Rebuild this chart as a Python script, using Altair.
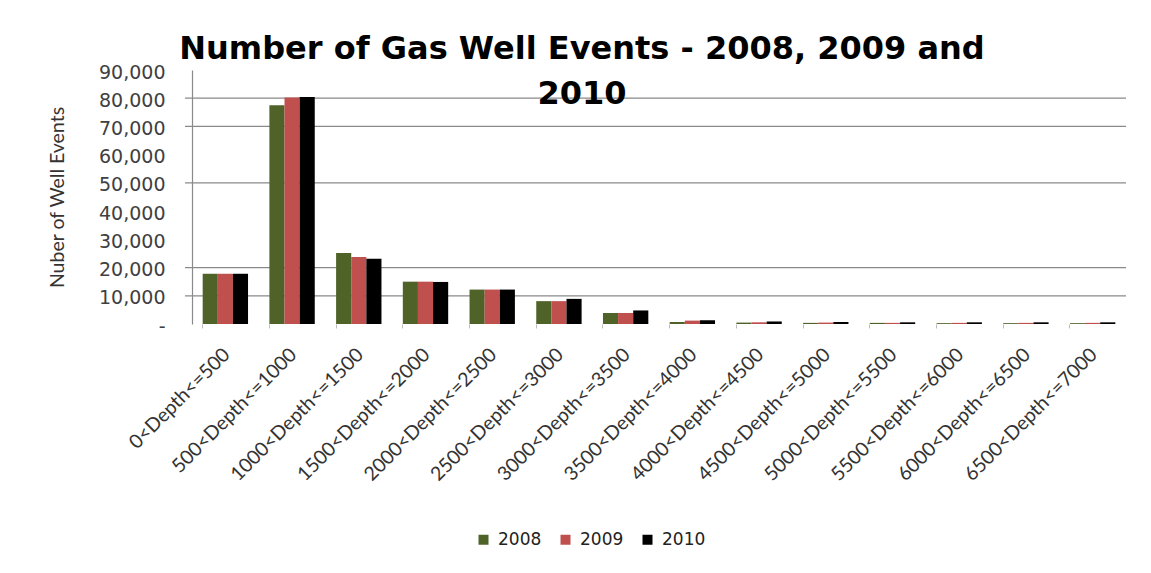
import altair as alt
import pandas as pd

categories = ["0<Depth<=500", "500<Depth<=1000", "1000<Depth<=1500", "1500<Depth<=2000",
              "2000<Depth<=2500", "2500<Depth<=3000", "3000<Depth<=3500", "3500<Depth<=4000",
              "4000<Depth<=4500", "4500<Depth<=5000", "5000<Depth<=5500", "5500<Depth<=6000",
              "6000<Depth<=6500", "6500<Depth<=7000"]
years = ["2008", "2009", "2010"]
v2008 = [17800, 77500, 25200, 15000, 12200, 8100, 3900, 700, 500, 400, 400, 300, 300, 300]
v2009 = [17800, 80300, 23700, 15000, 12200, 8100, 3900, 1200, 600, 500, 400, 400, 400, 400]
v2010 = [17800, 80400, 23100, 14900, 12200, 8900, 4800, 1300, 900, 700, 600, 600, 600, 600]
colors = ["#4f6228", "#c0504d", "#000000"]
grid_vals = [10000, 20000, 50000, 70000, 80000]
y_ticks = [0, 10000, 20000, 30000, 40000, 50000, 60000, 70000, 80000, 90000]

rows = []
for yr, vals in zip(years, [v2008, v2009, v2010]):
    for c, v in zip(categories, vals):
        rows.append({"Depth": c, "Year": yr, "Events": v})
df = pd.DataFrame(rows)
grid_df = pd.DataFrame({"g": grid_vals})

W, H = 934, 254
FONT = "Lato"

yscale = alt.Scale(domain=[0, 90000], nice=False)
yaxis = alt.Axis(title="Nuber of Well Events", values=y_ticks, grid=False,
                 ticks=False, domainColor="#8a8a8a", domainWidth=1.2,
                 labelFont="DejaVu Sans", labelFontSize=19, labelColor="#404040",
                 labelPadding=27, labelOverlap=False, labelOffset=2,
                 labelExpr="datum.value == 0 ? '-\u00a0\u00a0\u00a0' : format(datum.value, ',')",
                 titleFont=FONT, titleFontSize=19.5, titleFontWeight="normal",
                 titleColor="#333333", titlePadding=31)

grid = alt.Chart(grid_df).mark_rule(color="#8a8a8a", strokeWidth=1.2).encode(
    y=alt.Y("g:Q", scale=yscale, axis=yaxis, title="Nuber of Well Events"),
    x=alt.value(-7),
    x2=alt.value(W),
)

bars = alt.Chart(df).mark_bar().encode(
    x=alt.X("Depth:N", sort=categories,
            scale=alt.Scale(paddingInner=0.32, paddingOuter=0.16),
            axis=alt.Axis(title=None, labelAngle=-45, labelFont=FONT, labelFontSize=19.5,
                          labelColor="#333333", labelPadding=17, labelOffset=-5,
                          domain=False, labelLimit=400,
                          ticks=True, bandPosition=0, tickSize=4, tickColor="#bbbbbb",
                          labelAlign="right", labelBaseline="top")),
    xOffset=alt.XOffset("Year:N", sort=years),
    y=alt.Y("Events:Q", scale=yscale, axis=yaxis, title="Nuber of Well Events"),
    color=alt.Color("Year:N", sort=years,
                    scale=alt.Scale(domain=years, range=colors),
                    legend=alt.Legend(title=None, orient="none", direction="horizontal",
                                      legendX=283, legendY=461, symbolType="square",
                                      symbolSize=100, symbolStrokeWidth=0,
                                      labelFont="DejaVu Sans", labelFontSize=17,
                                      labelColor="#222222", labelOffset=6,
                                      columnPadding=15, padding=0)),
)

chart = alt.layer(grid, bars).properties(
    width=W, height=H,
    title=alt.TitleParams(
        text=["Number of Gas Well Events - 2008, 2009 and", "2010"],
        font="DejaVu Sans", fontSize=32, fontWeight="bold", color="#000000",
        anchor="middle", dx=-77, offset=-48, lineHeight=45,
    ),
    autosize=alt.AutoSizeParams(type="none"),
    padding={"left": 184, "top": 62, "right": 17, "bottom": 240},
).configure(background="white", view=alt.ViewConfig(stroke="transparent", strokeWidth=0))

chart.save("out.html", embed_options={"renderer": "svg", "actions": False})
